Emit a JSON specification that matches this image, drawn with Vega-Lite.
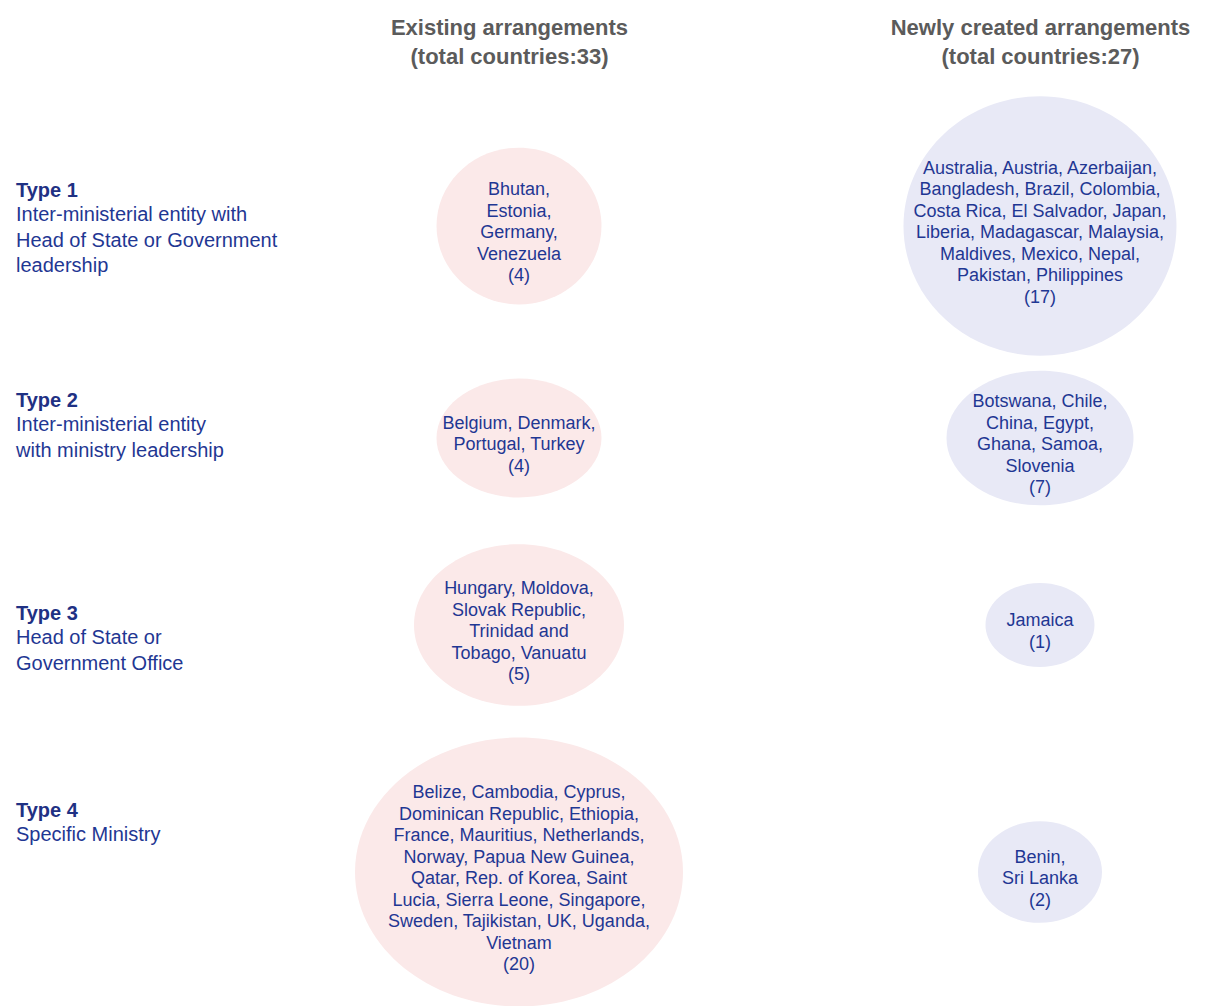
{
  "$schema": "https://vega.github.io/schema/vega-lite/v6.json",
  "width": 1205,
  "height": 1006,
  "autosize": {"type": "none"},
  "padding": 0,
  "background": "white",
  "config": {"view": {"stroke": null}},
  "datasets": {
    "cells": [
      {"arrangement": "Existing", "colNo": 1, "type": "Type 1", "typeNo": 1, "count": 4, "lines": ["Bhutan,", "Estonia,", "Germany,", "Venezuela", "(4)"]},
      {"arrangement": "Newly created", "colNo": 2, "type": "Type 1", "typeNo": 1, "count": 17, "lines": ["Australia, Austria, Azerbaijan,", "Bangladesh, Brazil, Colombia,", "Costa Rica, El Salvador, Japan,", "Liberia, Madagascar, Malaysia,", "Maldives, Mexico, Nepal,", "Pakistan, Philippines", "(17)"]},
      {"arrangement": "Existing", "colNo": 1, "type": "Type 2", "typeNo": 2, "count": 4, "lines": ["Belgium, Denmark,", "Portugal, Turkey", "(4)"]},
      {"arrangement": "Newly created", "colNo": 2, "type": "Type 2", "typeNo": 2, "count": 7, "lines": ["Botswana, Chile,", "China, Egypt,", "Ghana, Samoa,", "Slovenia", "(7)"]},
      {"arrangement": "Existing", "colNo": 1, "type": "Type 3", "typeNo": 3, "count": 5, "lines": ["Hungary, Moldova,", "Slovak Republic,", "Trinidad and", "Tobago, Vanuatu", "(5)"]},
      {"arrangement": "Newly created", "colNo": 2, "type": "Type 3", "typeNo": 3, "count": 1, "lines": ["Jamaica", "(1)"]},
      {"arrangement": "Existing", "colNo": 1, "type": "Type 4", "typeNo": 4, "count": 20, "lines": ["Belize, Cambodia, Cyprus,", "Dominican Republic, Ethiopia,", "France, Mauritius, Netherlands,", "Norway, Papua New Guinea,", "Qatar, Rep. of Korea, Saint", "Lucia, Sierra Leone, Singapore,", "Sweden, Tajikistan, UK, Uganda,", "Vietnam", "(20)"]},
      {"arrangement": "Newly created", "colNo": 2, "type": "Type 4", "typeNo": 4, "count": 2, "lines": ["Benin,", "Sri Lanka", "(2)"]}
    ],
    "types": [
      {"colNo": 0, "typeNo": 1, "title": "Type 1", "desc": ["Inter-ministerial entity with", "Head of State or Government", "leadership"]},
      {"colNo": 0, "typeNo": 2, "title": "Type 2", "desc": ["Inter-ministerial entity", "with ministry leadership"]},
      {"colNo": 0, "typeNo": 3, "title": "Type 3", "desc": ["Head of State or", "Government Office"]},
      {"colNo": 0, "typeNo": 4, "title": "Type 4", "desc": ["Specific Ministry"]}
    ]
  },
  "resolve": {"scale": {"y": "independent"}},
  "layer": [
    {
      "data": {"name": "cells"},
      "encoding": {
        "x": {
          "field": "colNo", "type": "quantitative",
          "scale": {"domain": [0, 1, 2], "range": [16, 519, 1040]},
          "axis": {
            "orient": "top", "values": [1, 2], "offset": -17,
            "domain": false, "ticks": false, "tickSize": 0, "grid": false,
            "labelPadding": 0, "labelBaseline": "top", "labelAlign": "center",
            "labelFont": "Liberation Sans", "labelFontSize": 22, "labelFontWeight": "bold",
            "labelColor": "#5b5b5b", "labelLineHeight": 29, "labelLimit": 0,
            "labelFlush": false, "labelOverlap": false, "labelBound": false,
            "labelOffset": {"condition": {"test": "datum.value == 1", "value": -10}, "value": 0},
            "labelExpr": "datum.value == 1 ? ['Existing arrangements', '(total countries:33)'] : datum.value == 2 ? ['Newly created arrangements', '(total countries:27)'] : ''",
            "title": null
          }
        },
        "y": {
          "field": "typeNo", "type": "quantitative",
          "scale": {"domain": [1, 2, 3, 4], "range": [226, 438, 625, 872]},
          "axis": null
        }
      },
      "layer": [
        {
          "mark": {"type": "point", "filled": true, "opacity": 1, "strokeWidth": 0},
          "encoding": {
            "size": {
              "field": "count", "type": "quantitative",
              "scale": {"type": "linear", "domain": [1, 2, 4, 5, 7, 17, 20], "range": [11881, 15376, 27225, 44100, 34969, 74529, 107584]},
              "legend": null
            },
            "shape": {
              "field": "type", "type": "nominal",
              "scale": {
                "domain": ["Type 1", "Type 2", "Type 3", "Type 4"],
                "range": [
                  "M-1,0C-1,-0.5247,-0.5523,-0.95,0,-0.95C0.5523,-0.95,1,-0.5247,1,0C1,0.5247,0.5523,0.95,0,0.95C-0.5523,0.95,-1,0.5247,-1,0Z",
                  "M-1,0C-1,-0.3977,-0.5523,-0.72,0,-0.72C0.5523,-0.72,1,-0.3977,1,0C1,0.3977,0.5523,0.72,0,0.72C-0.5523,0.72,-1,0.3977,-1,0Z",
                  "M-1,0C-1,-0.4253,-0.5523,-0.77,0,-0.77C0.5523,-0.77,1,-0.4253,1,0C1,0.4253,0.5523,0.77,0,0.77C-0.5523,0.77,-1,0.4253,-1,0Z",
                  "M-1,0C-1,-0.4529,-0.5523,-0.82,0,-0.82C0.5523,-0.82,1,-0.4529,1,0C1,0.4529,0.5523,0.82,0,0.82C-0.5523,0.82,-1,0.4529,-1,0Z"
                ]
              },
              "legend": null
            },
            "color": {
              "field": "arrangement", "type": "nominal",
              "scale": {"domain": ["Existing", "Newly created"], "range": ["#fbe9e9", "#e8e9f6"]},
              "legend": null
            }
          }
        },
        {
          "mark": {
            "type": "text", "align": "center", "baseline": "middle",
            "font": "Liberation Sans", "fontSize": 18, "lineHeight": 21.5, "color": "#1f3793",
            "dy": {"expr": "-(length(datum.lines) - 1) * 21.5 / 2 + 7"}
          },
          "encoding": {"text": {"field": "lines"}}
        }
      ]
    },
    {
      "data": {"name": "types"},
      "encoding": {
        "x": {"field": "colNo", "type": "quantitative"},
        "y": {
          "field": "typeNo", "type": "quantitative",
          "scale": {"domain": [1, 2, 3, 4], "range": [197, 407, 620, 817]},
          "axis": null
        }
      },
      "layer": [
        {
          "mark": {"type": "text", "align": "left", "baseline": "alphabetic", "font": "Liberation Sans", "fontSize": 20, "fontWeight": "bold", "color": "#1f3184"},
          "encoding": {"text": {"field": "title"}}
        },
        {
          "mark": {"type": "text", "align": "left", "baseline": "alphabetic", "dy": 24, "font": "Liberation Sans", "fontSize": 20, "lineHeight": 25.5, "color": "#1f3793"},
          "encoding": {"text": {"field": "desc"}}
        }
      ]
    }
  ]
}
